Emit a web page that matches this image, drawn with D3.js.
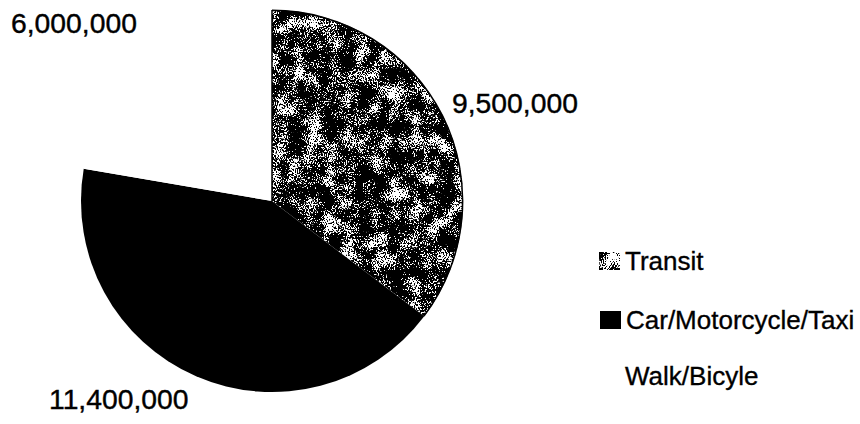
<!DOCTYPE html>
<html>
<head>
<meta charset="utf-8">
<script src="https://cdn.jsdelivr.net/npm/d3@7"></script>
<style>
  html, body { margin: 0; padding: 0; background: #fff; }
  svg { display: block; }
  text { font-family: "Liberation Sans", Arial, Helvetica, sans-serif; fill: #000; }
</style>
</head>
<body>
<svg id="chart" width="860" height="424"></svg>
<script>
// Trip volumes by mode
const categories = ["Transit", "Car/Motorcycle/Taxi", "Walk/Bicyle"];
const values = [9500000, 11400000, 6000000];
const valueLabels = ["9,500,000", "11,400,000", "6,000,000"];

const cx = 272, cy = 201, R = 191;

const svg = d3.select("#chart");
const defs = svg.append("defs");

const opaque = "1 0 0 0 0  0 1 0 0 0  0 0 1 0 0  0 0 0 0 1";

// Speckled black-and-white texture; `level` sets how much white shows through
function speckle(id, level) {
  const f = defs.append("filter").attr("id", id)
    .attr("color-interpolation-filters", "sRGB")
    .attr("x", "-5%").attr("y", "-5%").attr("width", "110%").attr("height", "110%");
  f.append("feTurbulence").attr("type", "fractalNoise")
    .attr("baseFrequency", "0.9 0.6").attr("numOctaves", 3).attr("seed", 7).attr("result", "fineRaw");
  f.append("feColorMatrix").attr("in", "fineRaw").attr("type", "matrix")
    .attr("values", opaque).attr("result", "fine");
  f.append("feTurbulence").attr("type", "fractalNoise")
    .attr("baseFrequency", "0.06").attr("numOctaves", 2).attr("seed", 3).attr("result", "coarseRaw");
  f.append("feColorMatrix").attr("in", "coarseRaw").attr("type", "matrix")
    .attr("values", opaque).attr("result", "coarse");
  f.append("feComposite").attr("in", "fine").attr("in2", "coarse")
    .attr("operator", "arithmetic").attr("k1", 0).attr("k2", 0.75).attr("k3", 0.6).attr("k4", -0.145)
    .attr("result", "mix");
  f.append("feColorMatrix").attr("in", "mix").attr("type", "matrix")
    .attr("values", "1 0 0 0 0  1 0 0 0 0  1 0 0 0 0  0 0 0 0 1").attr("result", "grey");
  const ct = f.append("feComponentTransfer").attr("in", "grey").attr("result", "bw");
  ["feFuncR", "feFuncG", "feFuncB"].forEach(n =>
    ct.append(n).attr("type", "linear").attr("slope", 25).attr("intercept", -25 * level));
  f.append("feComposite").attr("in", "bw").attr("in2", "SourceGraphic").attr("operator", "in");
}
speckle("speckle", 0.58);
speckle("speckleKey", 0.53);

const pie = d3.pie().sort(null).value(d => d)
  .startAngle(0).endAngle(2 * Math.PI);
const arcs = pie(values);
const arc = d3.arc().innerRadius(0).outerRadius(R);

const g = svg.append("g").attr("transform", `translate(${cx},${cy})`);

const fills = ["#000", "#000", "#fff"];

g.selectAll("path.slice").data(arcs).enter().append("path")
  .attr("class", "slice")
  .attr("d", arc)
  .attr("fill", (d, i) => fills[i])
  .attr("filter", (d, i) => i === 0 ? "url(#speckle)" : null);

// Rim and left edge outline of the Transit slice
g.append("path")
  .attr("d", d3.arc().innerRadius(R - 1.2).outerRadius(R + 0.4)(arcs[0]))
  .attr("fill", "#000");
g.append("line")
  .attr("x1", 0).attr("y1", 0).attr("x2", 0).attr("y2", -R)
  .attr("stroke", "#000").attr("stroke-width", 1.5);

// Value labels
const labelPos = [
  { x: 452, y: 113 },
  { x: 49, y: 409 },
  { x: 11, y: 33 }
];
svg.selectAll("text.value").data(valueLabels).enter().append("text")
  .attr("class", "value")
  .attr("x", (d, i) => labelPos[i].x)
  .attr("y", (d, i) => labelPos[i].y)
  .attr("font-size", 28.3)
  .attr("stroke", "#000").attr("stroke-width", 0.4)
  .text(d => d);

// Legend
const legend = svg.append("g");
const rows = [
  { y: 270, sx: 599, tx: 625 },
  { y: 329, sx: 600, tx: 626 },
  { y: 385, sx: 600, tx: 625 }
];
categories.forEach((c, i) => {
  const r = rows[i];
  legend.append("rect")
    .attr("x", r.sx).attr("y", r.y - 18).attr("width", 21).attr("height", 18)
    .attr("fill", fills[i])
    .attr("filter", i === 0 ? "url(#speckleKey)" : null);
  legend.append("text")
    .attr("x", r.tx).attr("y", r.y)
    .attr("font-size", 26)
    .attr("stroke", "#000").attr("stroke-width", 0.35)
    .text(c);
});
</script>
</body>
</html>
